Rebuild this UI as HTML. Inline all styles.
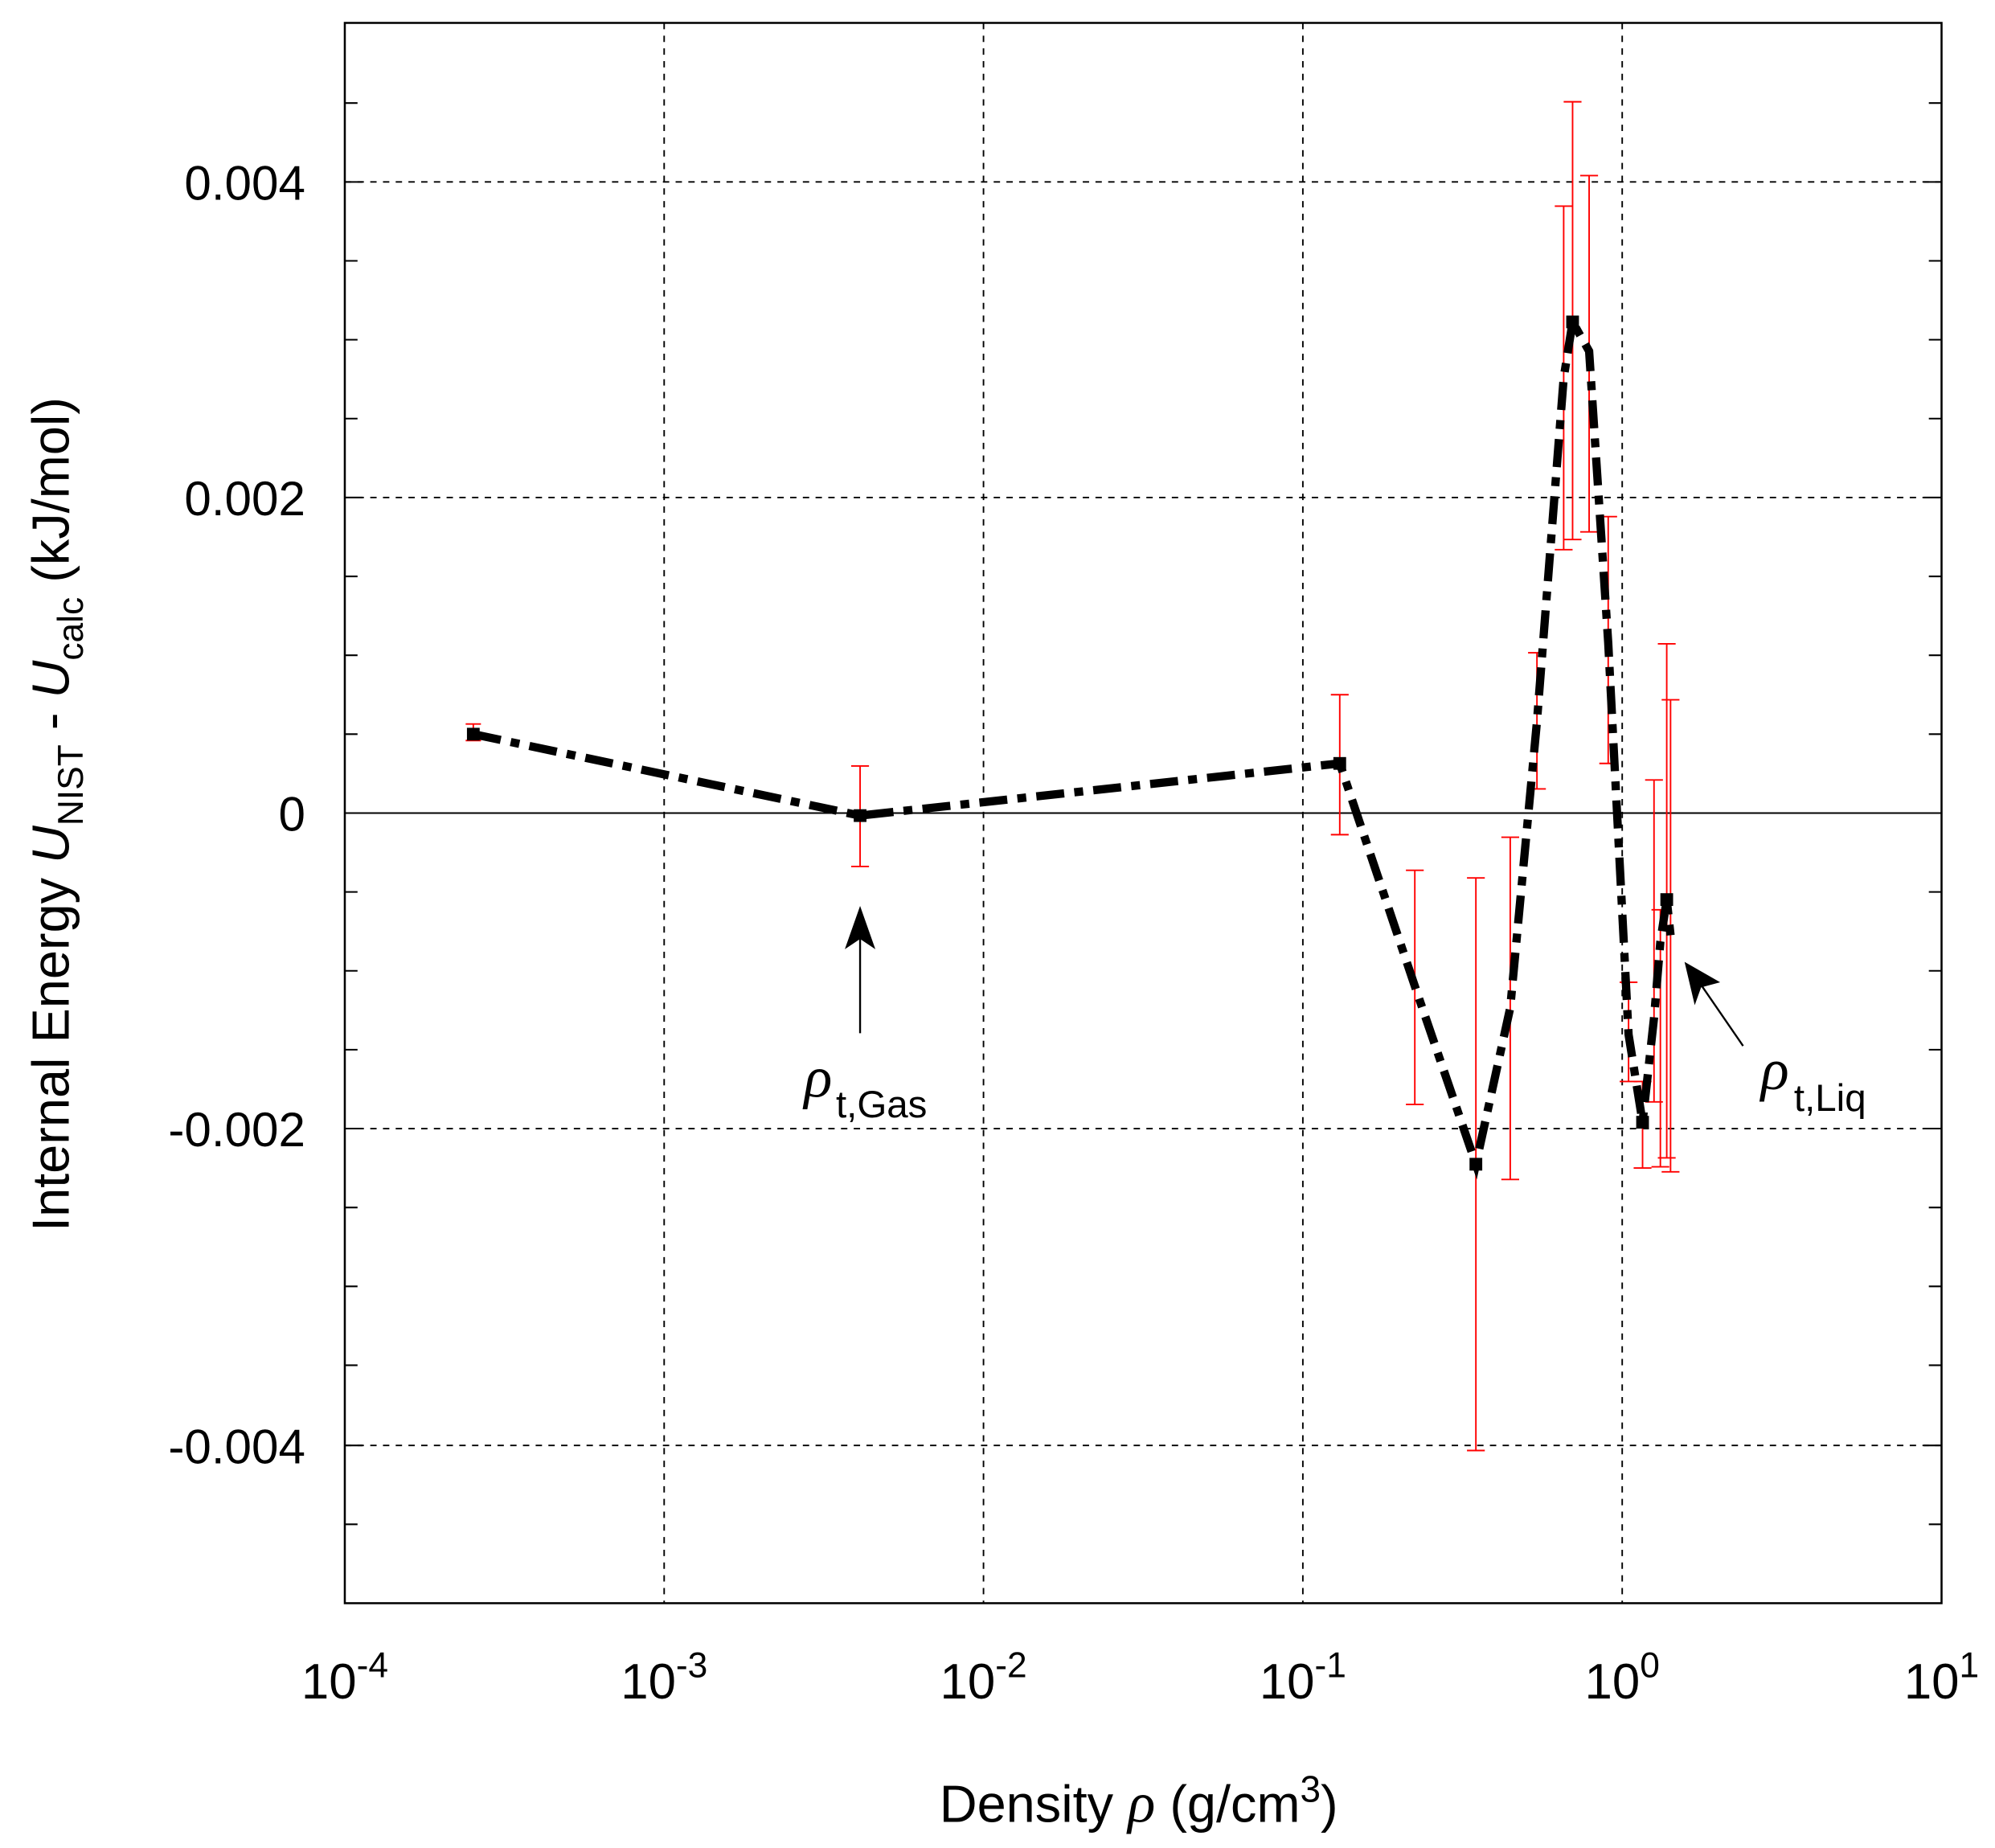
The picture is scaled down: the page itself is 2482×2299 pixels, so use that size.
<!DOCTYPE html>
<html><head><meta charset="utf-8"><style>html,body{margin:0;padding:0;background:#fff}svg{display:block}</style></head>
<body>
<svg width="2482" height="2299" viewBox="0 0 1568 1452.4" xmlns="http://www.w3.org/2000/svg" font-family="Liberation Sans, Arial, sans-serif">
<rect width="1568" height="1452.4" fill="#fff"/>
<g stroke="#000" stroke-width="1.2" stroke-dasharray="5,5">
<line x1="522" y1="18" x2="522" y2="1260"/>
<line x1="773" y1="18" x2="773" y2="1260"/>
<line x1="1024" y1="18" x2="1024" y2="1260"/>
<line x1="1275" y1="18" x2="1275" y2="1260"/>
<line x1="271" y1="143" x2="1526" y2="143"/>
<line x1="271" y1="391" x2="1526" y2="391"/>
<line x1="271" y1="887" x2="1526" y2="887"/>
<line x1="271" y1="1136" x2="1526" y2="1136"/>
</g>
<line x1="271" y1="639" x2="1526" y2="639" stroke="#000" stroke-width="1.3"/>
<g stroke="#000" stroke-width="1.3">
<path d="M271 81h10M271 143h14M271 205h10M271 267h10M271 329h10M271 391h14M271 453h10M271 515h10M271 577h10M271 701h10M271 763h10M271 825h10M271 887h14M271 949h10M271 1011h10M271 1073h10M271 1136h14M271 1198h10"/>
<path d="M1526 81h-10M1526 143h-14M1526 205h-10M1526 267h-10M1526 329h-10M1526 391h-14M1526 453h-10M1526 515h-10M1526 577h-10M1526 701h-10M1526 763h-10M1526 825h-10M1526 887h-14M1526 949h-10M1526 1011h-10M1526 1073h-10M1526 1136h-14M1526 1198h-10"/>
</g>
<rect x="271" y="18" width="1255" height="1242" fill="none" stroke="#000" stroke-width="1.6"/>
<g stroke="#f00" stroke-width="1.2" fill="none">
<path d="M372 569V582M366 569h12M366 582h12"/>
<path d="M676 602V681M669 602h14M669 681h14"/>
<path d="M1053 546V656M1046 546h14M1046 656h14"/>
<path d="M1112 684V868M1105 684h14M1105 868h14"/>
<path d="M1160 690V1140M1153 690h14M1153 1140h14"/>
<path d="M1187 658V927M1180 658h14M1180 927h14"/>
<path d="M1208 513V620M1201 513h14M1201 620h14"/>
<path d="M1229 162V432M1222 162h14M1222 432h14"/>
<path d="M1236 80V424M1229 80h14M1229 424h14"/>
<path d="M1249 138V418M1242 138h14M1242 418h14"/>
<path d="M1264 406V600M1257 406h14M1257 600h14"/>
<path d="M1280 772V850M1273 772h14M1273 850h14"/>
<path d="M1291 850V918M1284 850h14M1284 918h14"/>
<path d="M1300 613V866M1293 613h14M1293 866h14"/>
<path d="M1305 715V917M1298 715h14M1298 917h14"/>
<path d="M1310 506V910M1303 506h14M1303 910h14"/>
<path d="M1313 550V921M1306 550h14M1306 921h14"/>
</g>
<polyline fill="none" stroke="#000" stroke-width="6.5" stroke-dasharray="22,8,7,8" points="372,577 676,641 1053,600 1112,775 1160,915 1187,792 1208,567 1229,297 1236,253 1249,276 1264,505 1280,813 1291,882 1300,800 1305,740 1310,707 1313,735"/>
<g fill="#000">
<rect x="367" y="572" width="10" height="10"/><rect x="671" y="636" width="10" height="10"/><rect x="1048" y="595" width="10" height="10"/><rect x="1155" y="910" width="10" height="10"/><rect x="1231" y="248" width="10" height="10"/><rect x="1286" y="877" width="10" height="10"/><rect x="1305" y="702" width="10" height="10"/>
</g>
<g font-size="38" text-anchor="end" fill="#000">
<text x="240" y="157">0.004</text>
<text x="240" y="405">0.002</text>
<text x="240" y="653">0</text>
<text x="240" y="901">-0.002</text>
<text x="240" y="1150">-0.004</text>
</g>
<g font-size="39" fill="#000" text-anchor="middle">
<text x="271" y="1335">10<tspan dy="-17" font-size="28">-4</tspan></text>
<text x="522" y="1335">10<tspan dy="-17" font-size="28">-3</tspan></text>
<text x="773" y="1335">10<tspan dy="-17" font-size="28">-2</tspan></text>
<text x="1024" y="1335">10<tspan dy="-17" font-size="28">-1</tspan></text>
<text x="1275" y="1335">10<tspan dy="-17" font-size="28">0</tspan></text>
<text x="1526" y="1335">10<tspan dy="-17" font-size="28">1</tspan></text>
</g>
<text x="895" y="1432" font-size="41" text-anchor="middle">Density <tspan font-style="italic" font-family="Liberation Serif, serif" font-size="45">ρ</tspan> (g/cm<tspan dy="-16" font-size="29">3</tspan><tspan dy="16">)</tspan></text>
<text transform="translate(54,640) rotate(-90)" font-size="41" text-anchor="middle">Internal Energy <tspan font-style="italic">U</tspan><tspan dy="11" font-size="28">NIST</tspan><tspan dy="-11"> - </tspan><tspan font-style="italic">U</tspan><tspan dy="11" font-size="28">calc</tspan><tspan dy="-11"> (kJ/mol)</tspan></text>
<line x1="676" y1="812" x2="676" y2="735" stroke="#000" stroke-width="1.5"/>
<path d="M676 712 L664 746 L676 738 L688 746 Z" fill="#000"/>
<text x="632" y="862" font-size="46" font-style="italic" font-family="Liberation Serif, serif">ρ</text>
<text x="657" y="878" font-size="30">t,Gas</text>
<line x1="1370" y1="822" x2="1337" y2="774" stroke="#000" stroke-width="1.5"/>
<path d="M1324 756 L1332 790 L1337 776 L1352 772 Z" fill="#000"/>
<text x="1384" y="856" font-size="46" font-style="italic" font-family="Liberation Serif, serif">ρ</text>
<text x="1410" y="873" font-size="30">t,Liq</text>
</svg>
</body></html>
